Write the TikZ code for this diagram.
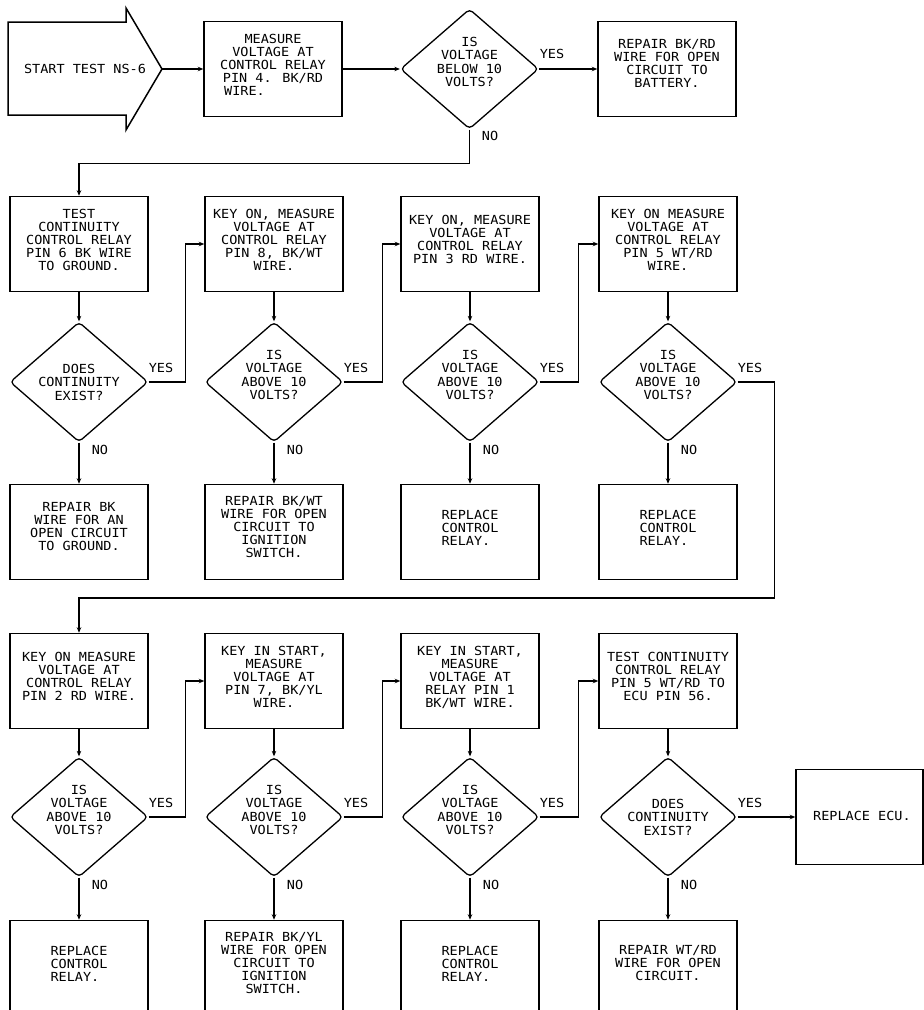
\documentclass[tikz,border=0pt]{standalone}
\usepackage{fontspec}
\newfontfamily\plotfont[FakeStretch=1.08]{DejaVu Sans Mono}
\usetikzlibrary{shapes.geometric,arrows.meta}
\begin{document}
\begin{tikzpicture}[x=1pt,y=-1pt,
  box/.style={draw, line width=1.5pt, minimum width=138pt, minimum height=95pt, inner sep=0pt},
  ecubox/.style={draw, line width=1.5pt, minimum width=127pt, minimum height=95pt, inner sep=0pt},
  dia/.style={draw, diamond, line width=1.3pt, minimum width=138pt, minimum height=120pt, inner sep=0pt, rounded corners=4pt},
  txt/.style={font=\plotfont\fontsize{12.5}{13}\selectfont, align=center, inner sep=0pt},
  ltxt/.style={txt, align=left},
  dtxt/.style={font=\plotfont\fontsize{12.5}{13.5}\selectfont, align=center, inner sep=0pt},
  lbl/.style={font=\plotfont\fontsize{12.5}{13}\selectfont, inner sep=0pt},
  conn/.style={line width=1.1pt, -{Stealth[length=5.5pt,width=4.5pt]}},
  startshape/.style={draw, line width=1.5pt, line join=miter},
]
\useasboundingbox (0,0) rectangle (924,1010);
\clip (0,0) rectangle (924,1010);

% ---------- row 1 ----------
\draw[startshape] (8,22) -- (126,22) -- (126,8) -- (162,69) -- (126,130) -- (126,115) -- (8,115) -- cycle;
\node[txt] (start) at (85,69) {START TEST NS-6};
\coordinate (starttip) at (162,69);

\node[box] (b1) at (273,69) {};
\node[txt] (b1t) at (273,65) {MEASURE\\VOLTAGE AT\\CONTROL RELAY\\PIN 4. BK/RD\\WIRE.\hphantom{0000000}};

\node[dia] (d1) at (469.5,69) {};
\node[dtxt] (d1t) at (469.5,62) {IS\\VOLTAGE\\BELOW 10\\VOLTS?};

\node[box] (r1) at (667,69) {};
\node[txt] (r1t) at (667,63) {REPAIR BK/RD\\WIRE FOR OPEN\\CIRCUIT TO\\BATTERY.};

\draw[conn] (starttip) -- (b1.west);
\draw[conn] (b1.east) -- (d1.west);
\draw[conn] (d1.east) -- (r1.west);
\node[lbl] (y1) at (552,54) {YES};
\node[lbl] (n1) at (490,136) {NO};

% ---------- row 2 ----------
\foreach \n/\x in {1/79,2/274,3/470,4/668}{
  \node[box] (a\n) at (\x,244) {};
  \node[dia] (e\n) at (\x,382) {};
  \node[box] (f\n) at (\x,532) {};
  \node[lbl] (ny\n) at (\x+82,368) {YES};
  \node[lbl] (nn\n) at (\x+21,450) {NO};
}
\node[txt] (a1t) at (79,240) {TEST\\CONTINUITY\\CONTROL RELAY\\PIN 6 BK WIRE\\TO GROUND.};
\node[txt] (a2t) at (274,240) {KEY ON, MEASURE\\VOLTAGE AT\\CONTROL RELAY\\PIN 8, BK/WT\\WIRE.};
\node[txt] (a3t) at (470,239) {KEY ON, MEASURE\\VOLTAGE AT\\CONTROL RELAY\\PIN 3 RD WIRE.};
\node[txt] (a4t) at (668,240) {KEY ON MEASURE\\VOLTAGE AT\\CONTROL RELAY\\PIN 5 WT/RD\\WIRE.};

\node[dtxt] (e1t) at (79,382) {DOES\\CONTINUITY\\EXIST?};
\node[dtxt] (e2t) at (274,375) {IS\\VOLTAGE\\ABOVE 10\\VOLTS?};
\node[dtxt] (e3t) at (470,375) {IS\\VOLTAGE\\ABOVE 10\\VOLTS?};
\node[dtxt] (e4t) at (668,375) {IS\\VOLTAGE\\ABOVE 10\\VOLTS?};

\node[txt] (f1t) at (79,527) {REPAIR BK\\WIRE FOR AN\\OPEN CIRCUIT\\TO GROUND.};
\node[txt] (f2t) at (274,527) {REPAIR BK/WT\\WIRE FOR OPEN\\CIRCUIT TO\\IGNITION\\SWITCH.};
\node[ltxt] (f3t) at (470,528) {REPLACE\\CONTROL\\RELAY.};
\node[ltxt] (f4t) at (668,528) {REPLACE\\CONTROL\\RELAY.};

\draw[conn] (d1.south) -- ++(0,34) -| (a1.north);
\foreach \n in {1,2,3,4}{
  \draw[conn] (a\n.south) -- (e\n.north);
  \draw[conn] (e\n.south) -- (f\n.north);
}
\draw[conn] (e1.east) -- ++(37,0) |- (a2.west);
\draw[conn] (e2.east) -- ++(39,0) |- (a3.west);
\draw[conn] (e3.east) -- ++(39,0) |- (a4.west);

% ---------- row 3 ----------
\foreach \n/\x in {1/79,2/274,3/470,4/668}{
  \node[box] (g\n) at (\x,681) {};
  \node[dia] (h\n) at (\x,817) {};
  \node[box] (k\n) at (\x,968) {};
  \node[lbl] (my\n) at (\x+82,803) {YES};
  \node[lbl] (mn\n) at (\x+21,885) {NO};
}
\node[txt] (g1t) at (79,676) {KEY ON MEASURE\\VOLTAGE AT\\CONTROL RELAY\\PIN 2 RD WIRE.};
\node[txt] (g2t) at (274,677) {KEY IN START,\\MEASURE\\VOLTAGE AT\\PIN 7, BK/YL\\WIRE.};
\node[txt] (g3t) at (470,677) {KEY IN START,\\MEASURE\\VOLTAGE AT\\RELAY PIN 1\\BK/WT WIRE.};
\node[txt] (g4t) at (668,676) {TEST CONTINUITY\\CONTROL RELAY\\PIN 5 WT/RD TO\\ECU PIN 56.};

\node[dtxt] (h1t) at (79,810) {IS\\VOLTAGE\\ABOVE 10\\VOLTS?};
\node[dtxt] (h2t) at (274,810) {IS\\VOLTAGE\\ABOVE 10\\VOLTS?};
\node[dtxt] (h3t) at (470,810) {IS\\VOLTAGE\\ABOVE 10\\VOLTS?};
\node[dtxt] (h4t) at (668,817) {DOES\\CONTINUITY\\EXIST?};

\node[ltxt] (k1t) at (79,964) {REPLACE\\CONTROL\\RELAY.};
\node[txt] (k2t) at (274,963) {REPAIR BK/YL\\WIRE FOR OPEN\\CIRCUIT TO\\IGNITION\\SWITCH.};
\node[ltxt] (k3t) at (470,964) {REPLACE\\CONTROL\\RELAY.};
\node[txt] (k4t) at (668,963) {REPAIR WT/RD\\WIRE FOR OPEN\\CIRCUIT.};

\node[ecubox] (ecu) at (859.5,817) {};
\node[lbl, anchor=west] (ecut) at (813,816) {REPLACE ECU.};

\draw[conn] (e4.east) -- ++(37,0) -- ++(0,216) -| (g1.north);
\foreach \n in {1,2,3,4}{
  \draw[conn] (g\n.south) -- (h\n.north);
  \draw[conn] (h\n.south) -- (k\n.north);
}
\draw[conn] (h1.east) -- ++(37,0) |- (g2.west);
\draw[conn] (h2.east) -- ++(39,0) |- (g3.west);
\draw[conn] (h3.east) -- ++(39,0) |- (g4.west);
\draw[conn] (h4.east) -- (ecu.west);
\end{tikzpicture}
\end{document}
